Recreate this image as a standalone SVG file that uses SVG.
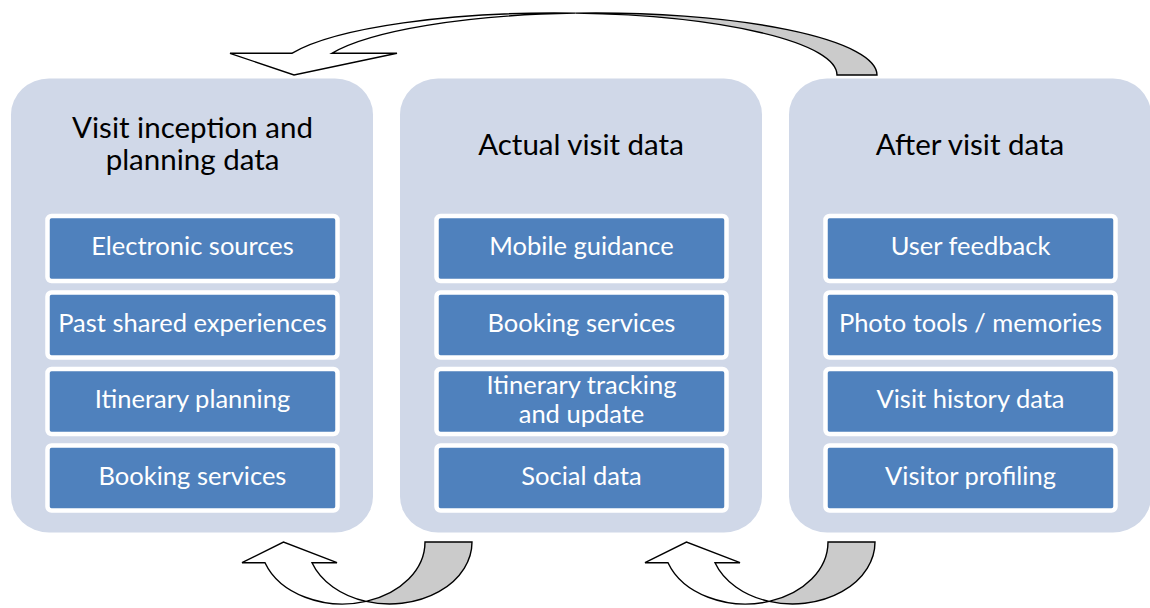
<svg xmlns="http://www.w3.org/2000/svg" width="1150" height="608" viewBox="0 0 1150 608">
  <style>
    .panel { fill: #d0d8e8; }
    .box { fill: #4f81bd; stroke: #ffffff; stroke-width: 4.5; }
    .title { font-family: Lato, "Liberation Sans", sans-serif; font-size: 29.5px; fill: #000000; text-anchor: middle; }
    .label { font-family: Lato, "Liberation Sans", sans-serif; font-size: 25.5px; fill: #ffffff; text-anchor: middle; }
    .front { fill: #ffffff; stroke: #000000; stroke-width: 1.4; stroke-linejoin: miter; }
    .back { fill: #cbcbcb; stroke: #000000; stroke-width: 1.4; stroke-linejoin: miter; }
  </style>
  <rect width="1150" height="608" fill="#ffffff"/>

  <!-- Phase 1 -->
  <g id="planning">
    <rect class="panel" x="11" y="78.5" width="362" height="454" rx="38" ry="36"/>
    <text class="title" x="192.5" y="138">Visit inception and</text>
    <text class="title" x="192.5" y="170">planning data</text>
    <g id="planning-electronic">
      <rect class="box" x="47.5" y="216" width="290" height="65" rx="4"/>
      <text class="label" x="192.5" y="255">Electronic sources</text>
    </g>
    <g id="planning-past">
      <rect class="box" x="47.5" y="292.5" width="290" height="65" rx="4"/>
      <text class="label" x="192.5" y="331.5">Past shared experiences</text>
    </g>
    <g id="planning-itinerary">
      <rect class="box" x="47.5" y="369" width="290" height="65" rx="4"/>
      <text class="label" x="192.5" y="408">Itinerary planning</text>
    </g>
    <g id="planning-booking">
      <rect class="box" x="47.5" y="445.5" width="290" height="65" rx="4"/>
      <text class="label" x="192.5" y="484.5">Booking services</text>
    </g>
  </g>

  <!-- Phase 2 -->
  <g id="actual">
    <rect class="panel" x="400" y="78.5" width="362" height="454" rx="38" ry="36"/>
    <text class="title" x="581" y="155">Actual visit data</text>
    <g id="actual-mobile">
      <rect class="box" x="436.5" y="216" width="290" height="65" rx="4"/>
      <text class="label" x="581.5" y="255">Mobile guidance</text>
    </g>
    <g id="actual-booking">
      <rect class="box" x="436.5" y="292.5" width="290" height="65" rx="4"/>
      <text class="label" x="581.5" y="331.5">Booking services</text>
    </g>
    <g id="actual-tracking">
      <rect class="box" x="436.5" y="369" width="290" height="65" rx="4"/>
      <text class="label" x="581.5" y="393.5">Itinerary tracking</text>
      <text class="label" x="581.5" y="423">and update</text>
    </g>
    <g id="actual-social">
      <rect class="box" x="436.5" y="445.5" width="290" height="65" rx="4"/>
      <text class="label" x="581.5" y="484.5">Social data</text>
    </g>
  </g>

  <!-- Phase 3 -->
  <g id="after">
    <rect class="panel" x="789" y="78.5" width="362" height="454" rx="38" ry="36"/>
    <text class="title" x="970" y="155">After visit data</text>
    <g id="after-feedback">
      <rect class="box" x="825.5" y="216" width="290" height="65" rx="4"/>
      <text class="label" x="970.5" y="255">User feedback</text>
    </g>
    <g id="after-photo">
      <rect class="box" x="825.5" y="292.5" width="290" height="65" rx="4"/>
      <text class="label" x="970.5" y="331.5">Photo tools / memories</text>
    </g>
    <g id="after-history">
      <rect class="box" x="825.5" y="369" width="290" height="65" rx="4"/>
      <text class="label" x="970.5" y="408">Visit history data</text>
    </g>
    <g id="after-profiling">
      <rect class="box" x="825.5" y="445.5" width="290" height="65" rx="4"/>
      <text class="label" x="970.5" y="484.5">Visitor profiling</text>
    </g>
  </g>

  <!-- Curved block arrows between phases -->
  <g id="connectors">
    <!-- top: after visit back to planning -->
    <path class="back" d="M575.5,13.16 A281.5,62 0 0 1 837,75 L877,75 A281.5,62 0 0 0 575.5,13.16 Z"/>
    <path class="front" d="M230,53.3 L294,75 L397,53.3 L331.82,53.3 A281.5,62 0 0 1 575.5,13.16 A281.5,62 0 0 0 291.82,53.3 Z"/>
    <!-- bottom: actual visit back to planning -->
    <g id="arrow-actual-planning">
      <path class="back" d="M366.14,601.43 A82.36,62 0 0 0 425,542 L472,542 A82.36,62 0 0 1 366.14,601.43 Z"/>
      <path class="front" d="M242,562.7 L283.5,542 L337,562.7 L312,562.7 A82.36,62 0 0 0 366.14,601.43 A82.36,62 0 0 1 265,562.7 Z"/>
    </g>
    <!-- bottom: after visit back to actual visit -->
    <g id="arrow-after-actual" transform="translate(403,0)">
      <path class="back" d="M366.14,601.43 A82.36,62 0 0 0 425,542 L472,542 A82.36,62 0 0 1 366.14,601.43 Z"/>
      <path class="front" d="M242,562.7 L283.5,542 L337,562.7 L312,562.7 A82.36,62 0 0 0 366.14,601.43 A82.36,62 0 0 1 265,562.7 Z"/>
    </g>
  </g>
</svg>
